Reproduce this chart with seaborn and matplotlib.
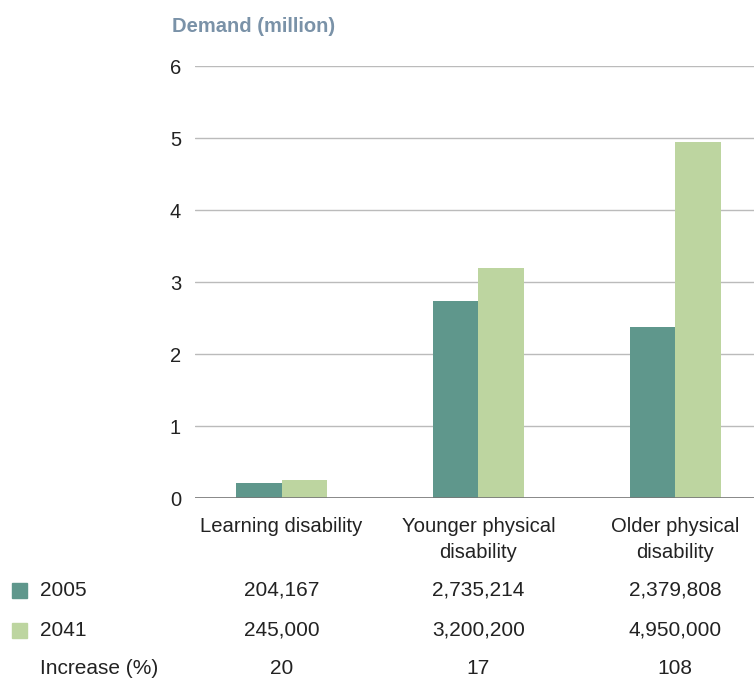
import matplotlib
matplotlib.use("Agg")
import matplotlib.pyplot as plt
import seaborn as sns
import pandas as pd

categories = ["Learning disability", "Younger physical\ndisability", "Older physical\ndisability"]
years = ["2005", "2041"]
values_2005 = [204167, 2735214, 2379808]
values_2041 = [245000, 3200200, 4950000]
increase = [20, 17, 108]
colors = ["#5f978c", "#bdd5a0"]

sns.set_theme(style="white")
plt.rcParams['font.family'] = ['Liberation Sans', 'DejaVu Sans']

rows = []
for c, v in zip(categories, values_2005):
    rows.append({"cat": c, "year": "2005", "val": v / 1e6})
for c, v in zip(categories, values_2041):
    rows.append({"cat": c, "year": "2041", "val": v / 1e6})
df = pd.DataFrame(rows)

fig = plt.figure(figsize=(7.54, 6.79), dpi=100)
W, H = 754, 679
ax = fig.add_axes([195 / W, 1 - 498 / H, (754 - 195) / W, (498 - 66) / H])
sns.barplot(data=df, x="cat", y="val", hue="year", palette=colors, width=0.463,
            ax=ax, legend=False, saturation=1, linewidth=0)
ax.set_xlim(-0.44, 2.40)
ax.set_ylim(0, 6)
ax.set_yticks(range(0, 7))
ax.yaxis.grid(True, color="#bbbbbb", linewidth=1)
ax.set_axisbelow(True)
for s in ax.spines.values():
    s.set_visible(False)
ax.axhline(0, color="#777777", linewidth=1.2, zorder=5)
ax.set_xlabel("")
ax.set_ylabel("")
ax.tick_params(axis="y", length=0, pad=10, labelsize=14.5, labelcolor="#222222")
ax.tick_params(axis="x", length=0, pad=14, labelsize=14.6, labelcolor="#222222")
for lbl in ax.get_xticklabels():
    lbl.set_linespacing(1.45)

fig.text(172 / W, 1 - 27 / H, "Demand (million)", fontsize=14.5, fontweight="bold",
         color="#7a92a8", va="center", ha="left")

# table below
col_x = [ax.transData.transform((i, 0))[0] for i in range(3)]
row_y = [590, 630, 669]
labels = ["2005", "2041", "Increase (%)"]
row_vals = [[f"{v:,}" for v in values_2005], [f"{v:,}" for v in values_2041],
            [str(v) for v in increase]]
for r, (ly, lab, vals) in enumerate(zip(row_y, labels, row_vals)):
    yf = 1 - ly / H
    fig.text(40 / W, yf, lab, fontsize=15, color="#222222", va="center", ha="left")
    for cx, v in zip(col_x, vals):
        fig.text(cx / W, yf, v, fontsize=15, color="#222222", va="center", ha="center")
    if r < 2:
        fig.patches.append(plt.Rectangle((12 / W, yf - 7.5 / H), 15 / W, 15 / H,
                                         transform=fig.transFigure, color=colors[r]))

fig.savefig("out.png", dpi=100)
